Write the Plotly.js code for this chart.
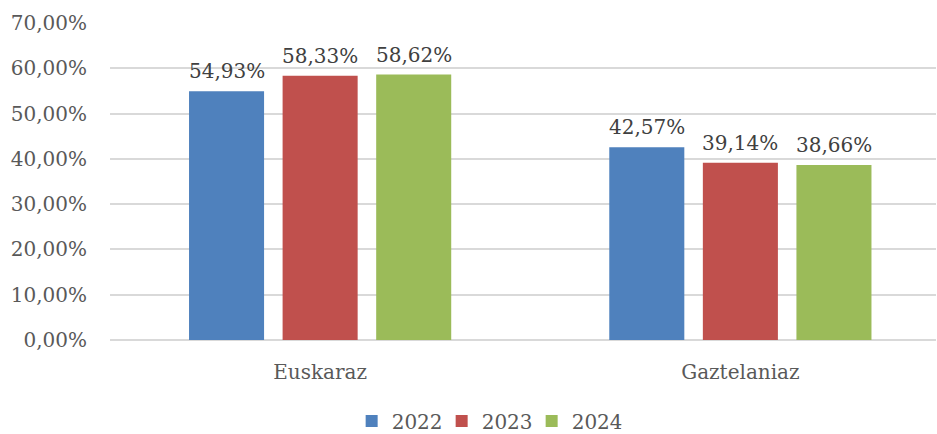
<!DOCTYPE html>
<html>
<head>
<meta charset="utf-8">
<script src="https://cdn.plot.ly/plotly-3.0.1.min.js"></script>
<style>
  html, body { margin: 0; padding: 0; background: #fff; }
  #chart { width: 937px; height: 434px; }
</style>
</head>
<body>
<div id="chart"></div>
<script>
// Data
const categories = ['Euskaraz', 'Gaztelaniaz'];
const years = ['2022', '2023', '2024'];
const values2022 = [0.5493, 0.4257];
const values2023 = [0.5833, 0.3914];
const values2024 = [0.5862, 0.3866];
const colors = ['#4F81BD', '#C0504D', '#9BBB59'];

const fontFamily = '"DejaVu Serif", "Liberation Serif", serif';
const textColor = '#595959';

const series = [values2022, values2023, values2024];
const fmtPct = v => (v * 100).toFixed(2).replace('.', ',') + '%';

const traces = series.map((vals, i) => ({
  type: 'bar',
  name: years[i],
  x: categories,
  y: vals,
  marker: { color: colors[i] },
  hovertemplate: '%{x}<br>' + years[i] + ': %{y:.2%}<extra></extra>'
}));

// value labels sit a bit higher above the bars than Plotly's 'outside' text
const slotPx = 93.5;
const annotations = [];
series.forEach((vals, i) => {
  vals.forEach((v, j) => {
    annotations.push({
      x: categories[j],
      y: v,
      xref: 'x',
      yref: 'y',
      text: fmtPct(v),
      showarrow: false,
      xanchor: 'center',
      yanchor: 'bottom',
      xshift: (i - 1) * slotPx,
      yshift: 6,
      font: { family: fontFamily, size: 20, color: '#404040' }
    });
  });
});

const layout = {
  width: 937,
  height: 434,
  paper_bgcolor: '#FFFFFF',
  plot_bgcolor: '#FFFFFF',
  font: { family: fontFamily, size: 20, color: textColor },
  separators: ',.',
  margin: { t: 23, r: 1, b: 94, l: 110 },
  barmode: 'group',
  bargap: 0.332,
  bargroupgap: 0.198,
  showlegend: true,
  legend: {
    orientation: 'h',
    xref: 'paper',
    x: 0.456,
    xanchor: 'center',
    yref: 'container',
    y: 0.03,
    yanchor: 'middle',
    font: { family: fontFamily, size: 20, color: textColor },
    entrywidth: 45,
    entrywidthmode: 'pixels',
    traceorder: 'normal'
  },
  annotations: annotations,
  xaxis: {
    type: 'category',
    range: [-0.5, 1.4655],
    showgrid: false,
    showline: false,
    zeroline: false,
    ticks: 'outside',
    ticklen: 14,
    tickcolor: 'rgba(0,0,0,0)',
    tickfont: { family: fontFamily, size: 20, color: textColor }
  },
  yaxis: {
    range: [0, 0.70],
    dtick: 0.1,
    tickformat: '.2%',
    showgrid: true,
    gridcolor: '#D9D9D9',
    gridwidth: 2,
    zeroline: true,
    zerolinecolor: '#D9D9D9',
    zerolinewidth: 2,
    showline: false,
    ticks: 'outside',
    ticklen: 18,
    tickcolor: 'rgba(0,0,0,0)',
    tickfont: { family: fontFamily, size: 20, color: textColor }
  }
};

const config = { displayModeBar: false, responsive: false, staticPlot: true };

Plotly.newPlot('chart', traces, layout, config);
</script>
</body>
</html>
